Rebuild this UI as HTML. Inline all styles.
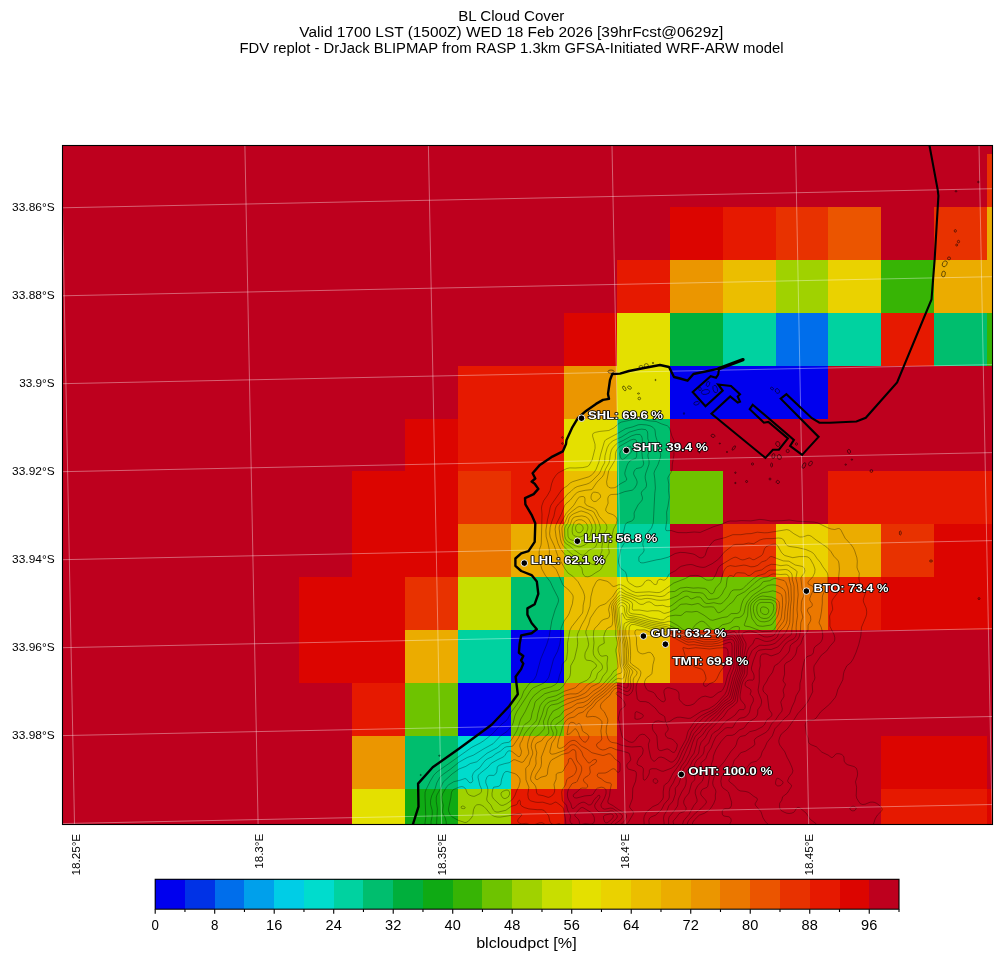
<!DOCTYPE html>
<html><head><meta charset="utf-8"><title>BL Cloud Cover</title>
<style>html,body{margin:0;padding:0;background:#fff;overflow:hidden}svg{display:block;will-change:transform}text{font-family:"Liberation Sans",sans-serif;}</style>
</head><body>
<svg width="1001" height="962" viewBox="0 0 1001 962">
<rect width="1001" height="962" fill="#fff"/>
<defs><clipPath id="fc"><rect x="62.5" y="145.5" width="930.0" height="679.0"/></clipPath></defs>
<g clip-path="url(#fc)">
<rect x="62.5" y="145.5" width="930.0" height="679.0" fill="#be001e"/>
<g shape-rendering="crispEdges">
<rect x="987.0" y="154.1" width="52.9" height="52.9" fill="#e83200"/>
<rect x="669.7" y="207.0" width="52.9" height="52.9" fill="#dc0500"/>
<rect x="722.6" y="207.0" width="52.9" height="52.9" fill="#e61900"/>
<rect x="775.5" y="207.0" width="52.9" height="52.9" fill="#e83200"/>
<rect x="828.3" y="207.0" width="52.9" height="52.9" fill="#eb5500"/>
<rect x="934.1" y="207.0" width="52.9" height="52.9" fill="#e83200"/>
<rect x="987.0" y="207.0" width="52.9" height="52.9" fill="#ebac00"/>
<rect x="616.8" y="259.9" width="52.9" height="52.9" fill="#e61900"/>
<rect x="669.7" y="259.9" width="52.9" height="52.9" fill="#eb9600"/>
<rect x="722.6" y="259.9" width="52.9" height="52.9" fill="#ebbe00"/>
<rect x="775.5" y="259.9" width="52.9" height="52.9" fill="#a0d200"/>
<rect x="828.3" y="259.9" width="52.9" height="52.9" fill="#ead200"/>
<rect x="881.2" y="259.9" width="52.9" height="52.9" fill="#37b405"/>
<rect x="934.1" y="259.9" width="105.8" height="52.9" fill="#ebac00"/>
<rect x="563.9" y="312.7" width="52.9" height="52.9" fill="#dc0500"/>
<rect x="616.8" y="312.7" width="52.9" height="52.9" fill="#e4e000"/>
<rect x="669.7" y="312.7" width="52.9" height="52.9" fill="#00af3c"/>
<rect x="722.6" y="312.7" width="52.9" height="52.9" fill="#00d2a0"/>
<rect x="775.5" y="312.7" width="52.9" height="52.9" fill="#006eeb"/>
<rect x="828.3" y="312.7" width="52.9" height="52.9" fill="#00d2a0"/>
<rect x="881.2" y="312.7" width="52.9" height="52.9" fill="#e61900"/>
<rect x="934.1" y="312.7" width="52.9" height="52.9" fill="#00be6e"/>
<rect x="987.0" y="312.7" width="52.9" height="52.9" fill="#37b405"/>
<rect x="458.1" y="365.6" width="105.8" height="52.9" fill="#e61900"/>
<rect x="563.9" y="365.6" width="52.9" height="52.9" fill="#eb9600"/>
<rect x="616.8" y="365.6" width="52.9" height="52.9" fill="#e4e000"/>
<rect x="669.7" y="365.6" width="158.7" height="52.9" fill="#0000ee"/>
<rect x="405.2" y="418.5" width="52.9" height="52.9" fill="#dc0500"/>
<rect x="458.1" y="418.5" width="105.8" height="52.9" fill="#e61900"/>
<rect x="563.9" y="418.5" width="52.9" height="52.9" fill="#e4e000"/>
<rect x="616.8" y="418.5" width="52.9" height="52.9" fill="#00be6e"/>
<rect x="352.3" y="471.3" width="105.8" height="52.9" fill="#dc0500"/>
<rect x="458.1" y="471.3" width="52.9" height="52.9" fill="#e83200"/>
<rect x="511.0" y="471.3" width="52.9" height="52.9" fill="#e61900"/>
<rect x="563.9" y="471.3" width="52.9" height="52.9" fill="#ebbe00"/>
<rect x="616.8" y="471.3" width="52.9" height="52.9" fill="#00be6e"/>
<rect x="669.7" y="471.3" width="52.9" height="52.9" fill="#6ec300"/>
<rect x="828.3" y="471.3" width="211.6" height="52.9" fill="#e61900"/>
<rect x="352.3" y="524.2" width="105.8" height="52.9" fill="#dc0500"/>
<rect x="458.1" y="524.2" width="52.9" height="52.9" fill="#eb7800"/>
<rect x="511.0" y="524.2" width="52.9" height="52.9" fill="#ebac00"/>
<rect x="563.9" y="524.2" width="52.9" height="52.9" fill="#a0d200"/>
<rect x="616.8" y="524.2" width="52.9" height="52.9" fill="#00d2a0"/>
<rect x="722.6" y="524.2" width="52.9" height="52.9" fill="#e83200"/>
<rect x="775.5" y="524.2" width="52.9" height="52.9" fill="#ead200"/>
<rect x="828.3" y="524.2" width="52.9" height="52.9" fill="#ebac00"/>
<rect x="881.2" y="524.2" width="52.9" height="52.9" fill="#e83200"/>
<rect x="934.1" y="524.2" width="105.8" height="52.9" fill="#dc0500"/>
<rect x="299.4" y="577.1" width="105.8" height="52.9" fill="#dc0500"/>
<rect x="405.2" y="577.1" width="52.9" height="52.9" fill="#e83200"/>
<rect x="458.1" y="577.1" width="52.9" height="52.9" fill="#c8de00"/>
<rect x="511.0" y="577.1" width="52.9" height="52.9" fill="#00be6e"/>
<rect x="563.9" y="577.1" width="52.9" height="52.9" fill="#ebbe00"/>
<rect x="616.8" y="577.1" width="52.9" height="52.9" fill="#e4e000"/>
<rect x="669.7" y="577.1" width="105.8" height="52.9" fill="#6ec300"/>
<rect x="775.5" y="577.1" width="52.9" height="52.9" fill="#eb7800"/>
<rect x="828.3" y="577.1" width="52.9" height="52.9" fill="#e61900"/>
<rect x="881.2" y="577.1" width="158.7" height="52.9" fill="#dc0500"/>
<rect x="299.4" y="630.0" width="105.8" height="52.9" fill="#dc0500"/>
<rect x="405.2" y="630.0" width="52.9" height="52.9" fill="#ebac00"/>
<rect x="458.1" y="630.0" width="52.9" height="52.9" fill="#00d2a0"/>
<rect x="511.0" y="630.0" width="52.9" height="52.9" fill="#0000ee"/>
<rect x="563.9" y="630.0" width="52.9" height="52.9" fill="#a0d200"/>
<rect x="616.8" y="630.0" width="52.9" height="52.9" fill="#ebbe00"/>
<rect x="669.7" y="630.0" width="52.9" height="52.9" fill="#e83200"/>
<rect x="352.3" y="682.8" width="52.9" height="52.9" fill="#e61900"/>
<rect x="405.2" y="682.8" width="52.9" height="52.9" fill="#6ec300"/>
<rect x="458.1" y="682.8" width="52.9" height="52.9" fill="#0000ee"/>
<rect x="511.0" y="682.8" width="52.9" height="52.9" fill="#6ec300"/>
<rect x="563.9" y="682.8" width="52.9" height="52.9" fill="#eb7800"/>
<rect x="352.3" y="735.7" width="52.9" height="52.9" fill="#eb9600"/>
<rect x="405.2" y="735.7" width="52.9" height="52.9" fill="#00be6e"/>
<rect x="458.1" y="735.7" width="52.9" height="52.9" fill="#00dccd"/>
<rect x="511.0" y="735.7" width="52.9" height="52.9" fill="#eb9600"/>
<rect x="563.9" y="735.7" width="52.9" height="52.9" fill="#eb5500"/>
<rect x="881.2" y="735.7" width="105.8" height="52.9" fill="#dc0500"/>
<rect x="352.3" y="788.6" width="52.9" height="52.9" fill="#e4e000"/>
<rect x="405.2" y="788.6" width="52.9" height="52.9" fill="#0faa14"/>
<rect x="458.1" y="788.6" width="52.9" height="52.9" fill="#a0d200"/>
<rect x="511.0" y="788.6" width="52.9" height="52.9" fill="#e61900"/>
<rect x="881.2" y="788.6" width="105.8" height="52.9" fill="#e61900"/>
<rect x="987.0" y="788.6" width="52.9" height="52.9" fill="#dc0500"/>
</g>
<path d="M423.6 829.8 424.7 825.2 425.8 817.2 425 796.2 425.1 792.2 426 789.8 430.2 781.2 433.8 775.2 437.2 771.8 471.8 747.3 480.2 743 483.8 740.7 492.5 733.8 500.8 724.8 505.8 721.1 507.8 718.6 511.1 712.2 516.7 704.8 521.6 697.2 523.8 691.1 529.2 683.8 534 679.8 536.2 675.7 540.8 658.8 546.6 644.8 549 637.2 551.8 620.8 555.1 609.8 558 602.8 558.5 600.8 558.4 599.2 557.8 597.2 553.2 588.2 550.3 581.8 545.2 575.2 541.9 569.2 539.8 561.8 539.1 552.8 539.4 549.8 541 545.2 541.3 542.8 542 514.2 541.5 508.2 541.8 505.8 543.6 500.8 547.2 495.8 550.2 490.5 551.6 483.8 553.3 479.2 555.8 475.5 558.2 472.9 566.8 468.5 569.8 467.9 575.2 468 582.8 467.6 587.2 466.6 589.2 465.2 592.2 459.7 595.1 448.2 595 444.2 592.6 436.2 592.7 434.2 593.4 433.2 595.2 432.4 599.8 431.4 608.8 430.5 614 427.8 619.2 423.2 621.2 422.1 638.2 418.5 649 420.8 656.2 421.5 661.3 423.8 667.3 425.8 668.8 427 669.8 428.7 671.8 435.8 674.1 440.8 674.2 442.2 673.1 447.2 673.9 452.2 673.9 455.2 672.3 464.2 672.1 469.2 671.1 472.2 668.3 476.8 667.8 478.2 668.8 484.2 668.6 490.8 669.3 497.2 668 506.2 666.6 512.2 666.9 519.8 665.6 528.8 665.8 529.9 666.2 530.5 667.2 530.7 671.2 530.5 676.8 532.3 678.8 532.6 686.2 532.7 694.2 532 700.2 532.4 713.8 526.6 721.5 524.2 727.8 521.5 730.2 521 735.8 521.1 741.2 520.6 750.8 520.9 759.8 519.4 764.2 519.8 770.8 521 781.8 520.7 789.2 520 797.2 521.2 814.2 522.1 817.8 522.9 827.8 527.8 831.2 529 834.8 529.5 838.2 528.5 839.8 528.8 841 530.2 845.1 538.2 851.2 544.8 853.3 547.8 854.7 550.8 856.9 557.8 857.3 561.2 857 567.2 857.5 569.2 859.3 573.2 858.9 578.2 859.5 581.8 860.5 583.8 864.8 588.5 865.6 591.2 865.2 593.8 863.5 598.8 863.3 600.8 863.6 602.2 866.2 608.2 866.7 611.8 866.6 614.2 865.9 616.8 861.5 627.2 860.8 635.8 858.7 644.8 855.9 652.8 853.2 658.9 850.8 662.6 846.8 665.8 844.2 671.2 843.5 673.8 842.8 679.8 837.8 689.6 836.3 695.2 835.2 697.5 829.6 704.2 820.7 711.8 816 718.2 813.8 719.6 808.8 720.5 807.1 721.2 805.7 722.8 805.2 725.2 806.4 733.8 808.1 738.2 808.5 742.2 809.6 743.8 811.8 745 816.4 746.8 821.8 752.1 828.3 755.2 831.2 757.4 832.2 757.5 833.2 757 835.7 754.2 836.8 753.7 839.2 753.7 841.8 754.5 843.6 756.2 844 757.8 844.2 761.2 845.8 763.6 847.8 764.8 854.2 766.6 856.3 768.2 857.2 770.7 857.6 773.8 857.3 776.2 855.5 781.8 856.6 787.2 856.2 795.8 856.7 798.2 858.8 801.7 860.4 803.8 862.8 804.5 865.2 804.2 870.2 802.2 872.8 802.1 874.8 802.5 876.8 803.4 878.8 804.9 881.3 807.2 882.1 808.8 882.2 809.8 881.8 810.8 877.3 815.2 875.2 818.8 873.3 824.8 874.6 829.8M854.1 810.8 855.2 810.1 856.1 808.8 856.1 807.8 855.3 806.8 853.8 806.3 852.2 806.4 850.1 807.8 849.8 808.8 850.8 810.1 852.2 810.8 854.1 810.8M431.1 829.8 431 821.8 432.1 816.2 432.3 813.2 432.1 810.2 430.5 804.2 430.6 800.2 431.7 795.8 435.1 788.8 436.8 782.8 439.8 777.4 442.2 775 450.8 768.9 458.8 762.3 467.2 757.5 473.4 755.2 484.2 748.6 493 743.8 501.2 735.2 506.8 731.7 511.9 725.8 513.2 722.8 514.9 715.8 516.7 711.8 530.8 690.1 533.3 687.8 541.4 684.2 544.1 682.8 546.8 680.2 548.8 677.1 553.5 659.2 557.6 651.2 559.8 644.2 561 636.2 560.8 630.2 561.2 627.8 564.2 620.8 567.8 616 569 613.8 572.4 603.8 573.2 597.8 573 595.8 571.9 593.8 567.8 589 564.2 586.3 562.8 584.7 556.3 569.8 555.1 568.2 551.2 564.9 549.6 561.2 549.2 558.2 549.4 550.2 547.9 542.8 546.2 536.8 545.9 530.2 547.6 519.2 549.1 513.2 550.1 507.8 551 505.2 561.4 490.2 563.2 488.5 567.3 485.8 570.2 483 572.8 481.6 588.8 476.8 591.2 475.3 593.9 472.8 596.1 469.2 598.9 462.2 600.7 454.2 604.2 442.3 604.9 440.8 605.7 439.8 617 433.8 625.8 428.6 632.9 426.8 638.2 424.8 641.2 424.5 646.2 424.9 650.1 425.8 652.8 427.2 654.6 429.2 655.1 430.8 655.6 435.8 659.4 448.2 660.7 455.2 660.3 457.8 657.9 464.8 654.7 470.8 654 473.2 654.8 478.8 655.4 488.2 654.8 493.2 653.3 522.8 651.5 527.8 646.8 533.8 645.1 538.2 643 542.2 642.8 544.8 643.9 548.8 644 550.8 643 552.8 639.8 555.7 638.9 557.2 638.8 560.2 639.2 561.4 640.2 562.4 641.8 562.9 643.8 562.8 656.7 559.8 660.8 559.2 668.2 557.2 675.2 553.5 680.2 552.4 685.2 552.6 692.8 553.9 694.8 554.6 699.2 557.5 700.8 557.9 702.2 557.8 704 556.8 705.2 555.2 707.2 549.2 708 547.8 712.8 541.7 714.9 540.2 725.8 537.4 732.8 534.7 740.8 534.7 746.2 533.8 751.2 533.6 757.2 532.2 764.2 532.8 767.8 532.7 786.8 529.6 789.2 530.2 793.8 533.7 799.8 537 802.8 536.9 807.8 535.3 809.2 535.4 811.2 536.2 816.2 540.1 826.8 547.2 830.8 551.4 833.8 556.2 837.7 560.2 838.6 561.8 839 563.8 839.4 569.2 838.7 576.8 838.8 590.2 837.7 592.8 833.1 598.8 832 600.8 831.7 602.8 832.6 607.8 832.6 609.8 829.9 615.2 829.6 616.8 829.9 620.2 829.9 626.2 834.1 634.8 834.8 637.8 834.7 640.2 833.9 641.8 829.8 646.4 826.8 650.8 821.2 655.3 814.2 665.7 813.8 667.8 813.9 670.8 814.9 677.8 814.4 679.8 812.7 682.8 812.2 684.2 812.7 691.8 808.1 701.2 804.2 706.6 797.8 713.7 794.2 719.4 787.4 728.8 781.2 734.2 779.5 737.8 778.8 740.8 779 742.8 779.8 745.1 784.8 751.8 787 757.2 789.5 761.8 791.9 767.2 792.9 770.8 792.2 773.2 789.1 777.2 787.6 780.8 788.1 782.2 791.2 784.8 791.5 785.8 791.3 786.8 787.2 793.2 782.6 796.8 781.8 800.2 779.7 803.2 779.5 806.2 779.9 808.8 781.2 810.5 784.2 812.2 786.8 813.2 789.2 813.5 791.8 813.1 793.9 812.2 794.8 811.2 796.2 808.6 797.2 807.7 798.2 807.4 799.8 807.8 806.2 813.2 810.2 819.3 816.2 823.8 818.6 827.2 819.4 829.8M780.1 785.8 782.6 783.8 783.1 782.2 782.4 781.2 779.2 778.8 777.2 778.1 776.5 778.8 776 780.2 775.5 782.8 775.7 784.2 776.4 785.2 777.8 786 780.1 785.8M437.1 829.8 436.6 823.2 437.4 808.8 436.3 801.8 436.3 797.2 437 794.8 440.1 789.2 443.2 782.1 452.2 773.9 459.2 768.9 465.8 766.4 470.2 763.6 476.8 761.8 487 753.2 497.2 747.8 501.8 743.8 504.2 742.9 508.8 742.3 510.2 741.4 512.1 738.8 516.8 730.8 518.2 727.3 520.7 719.2 525.2 711.6 530.6 700.2 534.2 695.4 541.2 689.9 543.8 688.7 551.2 686.8 554.9 684.8 556.9 683.2 558.2 680.9 559.5 675.2 561.5 670.2 562.1 664.8 563 663.2 565.7 660.8 566.6 659.2 567.6 651.2 567.5 643.2 569.9 630.2 571.7 626.8 582.4 613.2 582.9 611.2 583.2 605.2 584.5 599.2 584.7 596.8 584.2 594.2 583 590.8 578.1 581.8 572.8 576.2 568.2 573.2 565 568.8 558.1 556.8 554.2 545.6 550.2 537.2 549.6 533.8 550.2 527.2 551.7 521.8 553.9 516.2 555.2 509.8 556.1 507.2 558.6 503.8 563.9 498.8 567.2 494.4 571.2 491.2 574.2 488.2 577.2 486.6 586.8 484.1 589.2 483.1 591.8 481.2 598.8 474.1 600.3 471.8 602.2 467.2 604.6 462.8 605 455.8 607.2 447.8 608.8 444.8 610.8 442.5 613.2 440.7 621.8 436.8 629.2 432.2 637.8 429.6 641.8 429.1 645.8 429.7 647.2 431.2 647.7 433.2 647.8 438.8 649.4 443.2 649.9 445.8 649.7 449.2 647.9 454.8 648 456.8 649.1 461.2 649 464.2 645.8 473.2 645.2 476.2 645.3 478.8 646.5 483.8 646.4 486.2 645.5 488.2 642.4 490.8 641.5 492.2 641.3 493.8 642.4 497.2 642.4 499.2 641.6 500.8 638.1 504.8 634.5 511.8 634.1 513.2 634.3 516.8 633.8 518.8 632.8 520.2 631.3 521.2 626.8 522.7 625.2 524.8 623 534.2 624.7 540.2 624.8 542.2 621.8 547.2 620.8 549.2 618.5 560.8 618.7 562.8 620.1 567.2 621.2 568.8 624.2 570.7 625.5 572.2 626.5 574.8 627.3 580.2 628.1 581.8 629.6 583.2 634.8 586.4 636.8 586.9 638.8 586.7 640.8 586.2 642.6 585.2 644.8 581.9 645.8 580.9 647.2 580.3 648.8 580.1 650.9 580.8 652.8 583.2 654 584.2 655.2 584.6 656.2 584.4 657 583.8 657.5 581.2 658.5 579.8 660.2 579.2 663.8 580.2 665.2 579.8 666.8 578.3 668.7 574.8 669.8 573.6 675.3 570.8 679.2 567.5 681.2 566.3 686.8 564.9 690.8 564.5 692.8 564.8 696.8 566.3 699.8 567 703.2 567.4 705.2 567.1 712.2 563.7 717.1 560.2 719.8 557.8 724.1 552.2 733.2 545.1 735.8 544.4 743.2 544.3 748.2 543.1 753.8 543.7 759.8 540 763.2 539 766.8 538.6 772.2 538.6 778.2 538 781.2 538.3 783.6 539.8 785.8 544.1 787.8 545.9 789.8 546.5 797.2 547.5 805.8 549.5 810.8 551.6 813.2 553.2 814.6 554.8 816.8 558.2 820.2 562.2 822.9 566.8 826.9 572.2 827.6 573.8 827.9 575.8 827.8 584.8 826.9 587.8 823.8 592.6 822.7 595.2 822.3 597.8 822.3 603.2 821.5 611.2 820.4 617.8 819.1 622.2 819.2 623.2 821.2 627.2 822.4 631.8 822.8 635.8 822.3 639.2 821.4 641.2 820.2 642.8 814.8 646.9 813.9 648.8 813.3 652.8 812.5 654.2 811.2 655.1 806.8 656.8 804.9 659.2 803.9 662.2 801.8 672.2 801.3 678.2 800 683.2 799.8 689.2 798.9 691.2 796.1 695.8 794.7 701.2 791.9 707.2 789.8 713.2 788.3 715.2 783.8 719 779.3 724.2 774.9 728.8 772.3 735.8 767.2 742.2 764.7 747.8 762.2 751.8 760.9 756.2 759.6 758.2 756.2 761.3 752.2 762.3 750.2 763.3 746.2 768.5 744.2 770.1 732.7 774.8 730.8 776.8 729 779.8 728.9 780.8 729.5 781.8 733.8 785.1 738.2 790 740.2 790.9 745.2 791.4 748.2 792.2 750.2 793.4 753.6 796.2 757 798.2 757.4 799.2 757.2 800.2 755.1 803.8 755.4 805.2 761 811.8 763 817.8 765.1 821.2 767.2 823.6 772.1 827.8 773.4 829.8M587.8 576.8 585.2 576.5 583.7 575.2 582.7 573.2 581.9 568.2 580.9 566.8 578 564.8 572.2 562 570.5 560.8 562.8 551.9 560.5 548.8 558.1 543.8 556.1 536.8 555.1 529.2 555.8 525.2 561.7 513.2 564.5 505.8 565.9 503.8 570.2 500.2 575.2 494.1 577.2 492.5 579.2 491.6 585.2 490.3 591.2 489.7 592.2 489.2 596.9 482.2 602.3 476.8 603.8 474.4 605.5 469.2 608.9 463.2 609.5 460.8 610.3 454.2 611.4 450.2 612.5 448.2 615.4 444.8 617.8 442.9 623.2 440.5 631.2 436 636.2 434.4 639.8 434.5 641.4 435.8 642.2 438.2 642.3 441.2 641.4 447.8 642.3 456.8 643.7 463.2 643.2 465.2 642.1 466.8 640.8 467.6 636.2 468.6 635 469.8 633.9 471.8 633.6 473.2 633.9 474.8 636.3 479.2 637 481.2 637.1 482.8 636.6 484.8 634.6 488.2 632.2 490.2 624.8 491.6 617.8 494.2 611.2 494.5 609.6 495.2 608.3 496.8 607.8 498.8 608.1 503.2 605.8 508.8 605.8 510.8 607.8 512.9 612.8 514.6 614.8 515.9 616.4 517.8 617.1 520.2 616.2 524.1 613.5 529.2 612.1 535.2 609.8 540 608.4 544.8 608.2 547.2 609.2 551.2 609.1 553.2 606 557.8 604.1 563.2 600.8 569.4 599.2 570.7 595.5 572.8 591.8 575.4 589.8 576.3 587.8 576.8M596.3 501.2 600.2 497.8 600.6 496.8 600.4 495.2 599.5 493.8 598.2 492.8 595.2 492.2 593.2 492.3 592.2 493.2 591.3 495.2 591 497.2 591.2 498.8 592.1 500.2 593.2 501.2 594.8 501.6 596.3 501.2M446 829.8 446.4 824.8 446.2 821.8 445.2 817.9 442.7 812.8 442.6 810.8 443.3 805.2 442 800.2 441.7 797.2 442.6 793.8 446.8 786.6 448.8 784.7 453.8 781.7 459.8 780.3 464.8 778.6 466.2 778.8 469.2 782.4 470.8 782.8 471.8 782.4 472.8 780.8 472.2 776.2 473.3 773.2 475.2 770.9 479.8 767.7 483.3 762.8 485.6 760.2 487.8 758.7 492 756.8 495.8 753.7 500.2 751.3 504.8 747.4 506.8 746.7 511.8 746.4 513.1 745.8 518.5 737.8 523.8 725.5 525 724.2 528.4 722.2 530.4 719.8 531.2 717.8 532.1 712.8 534 707.2 534.9 702.8 536 700.8 544.8 693.7 552.2 691.4 557.2 690.6 559.8 689.4 563.4 685.8 566.9 680.2 569.2 677.7 570 675.8 570.5 672.8 570.7 665.8 574.5 658.8 577.3 646.8 577.7 643.2 577.2 636.8 577.7 633.8 581.7 624.8 584.8 619.5 587.4 613.8 590 606.2 590.9 596.8 593 588.2 595.7 582.8 597.2 580.7 598.8 579.8 600.2 579.6 606.9 581.2 609.5 582.8 612.2 585.9 613.2 586.5 614.8 586.3 618.8 584.7 621.2 584.8 623.8 585.9 632.2 591.2 635.8 592.5 649.2 591.8 656.8 592.6 659.2 592.5 661.8 591.5 673.8 583 685.2 578.6 690.2 575.7 695.8 575.4 698.2 575.6 700.8 576.5 706.2 579.9 708.2 580.2 712.2 579.9 713.2 578.9 715.8 574.3 717.9 568.8 719.2 566.6 721.2 564.9 730.8 559 733.8 557.5 735.2 557.2 736.8 557.5 740.2 559.3 742.2 559.9 744.2 559.7 749.2 557.9 750.2 558.2 752.8 559.7 754.2 559.7 761.2 555.8 762.2 554.8 763.1 553.2 764.5 548.8 766.1 546.8 768.1 545.8 772.2 544.4 775.2 544.1 776.7 544.8 777.7 545.8 781.3 552.2 783.1 554.2 784.8 555.5 792.8 557.7 799.2 556.6 805.8 556.6 807.8 557 810.2 558.8 813.5 564.8 815 569.2 814.7 572.8 812.8 576.8 808.6 581.2 807.9 582.8 808.1 583.8 808.8 584.4 812.7 586.2 813.6 588.2 813.2 590.2 810.8 595.6 809.7 598.8 810 600.8 812.2 603.8 812.2 605.7 811.4 606.8 808.2 608.3 807.4 610.2 807.8 611.9 810.5 616.2 810.8 619.8 810.2 621.6 808.1 625.2 808 629.8 807.6 631.2 803.2 636.9 800.7 643.8 797.2 647.6 796 653.2 795.1 655.2 791.8 659.4 789.8 660.9 786.2 662.8 784.7 664.8 784.4 666.2 784.6 674.2 783 680.2 783.6 681.8 785.2 683.8 785.4 684.8 783.2 689.8 783.2 691.2 784 694.8 783.8 696.8 781.3 700.8 780.8 702.2 782.3 708.8 781.9 711.2 778.8 715 775.6 719.8 771.6 723.8 768.8 729.2 767.3 731.2 765.2 732.8 757.1 737.2 755.1 738.8 754.3 740.2 754.9 744.2 753.8 745.8 745.8 751.1 741.2 752.6 739.8 753.6 737.7 756.8 734.2 760.1 732.8 764.8 731.9 766.2 722.9 774.8 721.6 776.8 720.8 781.2 721.5 785.8 723.2 788.2 727.1 790.8 728.5 792.2 731.6 802.2 731.4 805.8 730.2 807.8 728.2 808.8 725.2 808.7 723.8 809.1 722.8 809.9 722.2 811.8 722.3 814.2 723.2 815.6 724.8 816.2 728.9 816.8 730.2 817.7 730.9 818.8 731.2 820.2 731 821.8 728.4 826.2 728.1 829.8M510.2 829.8 509.9 828.2 509.2 827.2 507.8 826.1 505.8 825.3 503.8 825.5 499.2 827.1 492.8 828.1 490.8 827.5 486.4 825.2 484.2 824.8 476.7 826.8 475.2 827.8 474.3 829.8M703.3 829.8 702.8 828.8 701.2 827.6 699.2 826.3 697.8 825.9 696.8 826.3 695.8 827.3 694.7 829.8M614.2 487.8 610.8 488 608.7 487.2 607.7 486.2 607 484.8 606.6 481.8 608.7 470.8 615 460.2 615.4 458.2 615.4 453.8 616.1 451.2 618.2 447.8 620.2 446 630.8 440 633.2 439.3 635.2 439.5 636.2 440.2 636.6 441.8 635.9 446.8 636.8 453.2 636.6 456.2 636.1 457.8 635.2 458.6 631.2 460.1 629.8 461.2 628.2 463.1 627.2 465.2 625.3 470.8 624.8 473.2 625.1 475.2 626.7 478.8 626.5 480.2 625.3 481.2 620.2 483.9 616.2 487 614.2 487.8M595.2 564.8 592.2 564.4 588.2 561.7 583.8 561.5 581.8 561 574.2 555.9 569.1 551.8 563.2 545.7 561.5 542.8 560.4 538.8 559.1 528.2 559.2 526.8 559.9 524.8 566.2 513.4 573.8 505.2 578.1 498.2 579.3 497.2 581.2 496.6 583.2 496.5 584.5 497.2 585 498.8 584.8 502.8 586 504.8 587.8 505.9 593.2 508 596.2 510.2 599.2 516.2 605.8 523.7 606.8 526.2 606.9 528.2 606.5 529.8 603.8 534.1 603.1 535.8 602.7 541.8 601.9 546.8 602 550.8 599.8 556.2 599.3 561.2 597.8 563.8 595.2 564.8M549.5 829.8 548.4 827.8 544.8 824.3 543.2 823.2 541.8 822.6 539.2 822.9 534.2 824.8 532.2 825.2 530.2 824.8 526.2 823.3 521.8 823.8 519.4 823.2 518 821.8 517.7 820.2 518.5 818.8 521.7 815.2 521.6 814.2 520.8 813.7 517.8 813.6 508.8 815.8 500.2 817.1 497.2 817 494.2 816.3 492.1 815.2 490.1 813.8 486.2 808.9 483.8 806.5 481.2 805 479.2 804.6 476.8 804.8 474.8 806.5 473.5 809.8 472.7 815.8 471.4 817.8 468.2 821.4 466.2 822.4 464.8 822.5 458.2 820.3 451.8 816.7 449.9 814.2 448.7 811.2 448.5 808.8 450.8 797.8 451.4 792.8 452.2 790.8 453.8 789.4 459.2 787.1 461.8 786.6 463.2 786.9 464.8 787.9 465.8 789.2 466.9 792.2 467.8 793.8 468.9 794.8 471.2 795.8 473.2 796.3 474.8 796.2 480.2 793.5 481.4 791.8 481.6 789.2 479.8 785.2 478 777.2 478.4 775.2 479.6 773.8 487.9 767.2 491.4 763.2 497.8 759.6 503.6 756.8 505.1 755.2 506.9 752.2 508.2 751.1 509.8 750.8 511.8 751.4 518.2 756.5 519.2 756.7 520.2 756 521.1 753.8 521.5 751.2 519.8 746.2 520.1 743.8 522.1 740.2 523.8 735.6 525.1 733.2 529.3 727.8 534.8 722.6 536.2 720.8 537 718.8 537.8 713.8 540.1 705.8 542.1 702.8 545.6 699.2 547.8 697.9 555.8 695.8 564.8 691.1 575.2 687.8 579.8 683.4 586.8 680.3 589.2 678.2 590.1 676.8 591.9 671.2 593.2 669.5 596 667.2 596.6 665.8 595.8 664 593.2 661.9 590.8 660.7 586.8 660.2 585.8 659.5 585.1 658.2 584.8 655.8 585.2 652.8 588 647.2 588.7 644.2 587.5 637.8 586 633.8 585.8 631.8 586.5 629.2 588.7 624.2 590.3 618.2 595.6 610.2 598 607.2 600.2 605.7 604.8 604.1 606.2 603.2 612.6 596.8 616.7 590.2 618.2 588.8 619.8 588.2 621.8 588.6 625.1 591.2 627.2 592.4 635.2 595.6 637.8 596.2 646.2 595.2 652.2 595.5 659.8 596.6 662.2 596.4 664.8 595.5 667.9 592.8 669.7 591.8 674.8 591.4 680.2 588.1 686.8 587.3 693.2 588.1 698.2 587.8 704.8 588.4 707.2 589.8 709.8 593 711.2 593.7 712.2 593.7 713.6 592.8 715.6 588.2 720.4 582.8 721 581.2 721.9 576.8 723.9 570.8 725.2 568.5 727.2 566.7 730.2 565.6 735.2 566.4 743.8 565.1 746.2 565.4 750.8 566.8 754.2 566.6 757.8 565.3 761.8 561.9 766.2 560.5 769.2 557.4 770.8 556.5 772.2 556.7 783.2 560.9 788.9 561.2 795.2 565 802.2 566.4 804.2 567.9 804.9 570.8 804.2 573.2 801.7 576.2 800.9 578.2 802 588.2 803.7 592.8 803.9 594.2 803.6 596.2 801.9 600.2 801.4 602.8 801.1 610.2 802.8 617.2 800.8 622.8 800.4 631.2 799.5 635.8 798.5 638.2 797.2 640.2 792.1 643.8 790.6 645.2 790 646.8 789.4 650.8 788 653.2 778.2 663.6 774.6 665.8 772.5 672.2 768.4 677.8 766.8 681.2 763.8 685.8 763.1 687.8 762.9 689.8 763.6 691.8 766.8 694.8 767.4 695.8 769 708.8 769.5 710.2 771.7 713.2 771.9 714.8 771.6 715.8 770.4 717.2 766.8 719.9 764.4 724.8 762.3 726.8 755.8 730.2 749.8 731.7 745.2 735.5 740.8 736.4 739.5 737.2 738.2 738.8 737.2 740.8 736.4 744.2 735.1 746.8 730.8 751.6 724.1 761.8 717.8 768.9 714.8 774.6 713 780.8 712.7 783.2 713.2 785.6 715.5 789.8 715.9 791.8 715.3 795.2 715.4 799.2 713.6 803.8 710.8 808.2 708.8 810.2 704.8 813.1 699.2 815.2 694.5 819.8 692.9 822.2 690.7 829.8M623.2 459.3 622.2 459.5 621.6 459.2 620.4 457.2 619.8 453.8 620.6 451.2 622.2 449.4 624.8 447.9 628.2 446.3 630.2 446.4 631 447.2 631.7 449.2 631.8 450.8 631.4 452.2 625.2 457.9 623.2 459.3M583.8 555 582.2 555.2 580.2 554.3 572.8 548.8 569.4 545.8 565.2 543 563.4 539.8 562.4 535.2 561.9 528.8 562.2 526.8 565.2 521.8 567.7 515.8 569.2 513.8 571.8 511.5 577.2 507.4 579.2 506.5 581.2 506.8 586.8 509.3 591.8 510.9 593.8 512.1 598.5 521.2 600.3 527.2 600.3 528.8 599.2 532.4 597.5 541.8 595.8 546.5 594.2 548 589.2 550 585.6 553.8 583.8 555.0M560.4 829.8 560.7 826.2 560.2 824 559.2 823.5 556.2 824.4 554.2 824.6 552.8 824.3 551.2 823.4 549.8 821.2 548.6 815.8 544.2 810.5 541.8 809.7 537.2 809.7 528.8 808.9 524.2 807.5 522 806.2 520.9 805.2 520.4 804.2 520.3 801.2 519.8 800.3 519.2 800.2 518.2 801 517.3 803.8 516.3 804.8 511.2 806.4 505.8 810.3 498.2 812.1 496.2 812 494.8 811.4 493.2 809.8 490.8 804.9 487.8 801.8 486.9 800.2 486.7 798.8 487.6 794.2 487.9 789.8 487.5 787.2 485.8 782.8 485.8 780.2 487 777.2 488.3 775.8 489.8 775.3 493.8 775.4 495.5 774.2 496.8 771.8 497.3 767.2 497.9 766.2 499.2 765.3 504.8 763.6 509.2 762.7 513.8 759.7 515.2 759.8 521.2 762.3 522.8 762.1 523.9 761.2 528.7 753.8 528.7 751.8 527.6 747.2 527.6 744.2 528.2 741.2 530.2 734.8 533.8 729.2 538.2 724.8 542.3 714.2 544.1 707.8 545.5 705.2 547.2 703.3 550.2 701.4 556.8 699.9 562.2 696.4 565.8 694.9 570.2 693.9 575.8 693.9 578.2 693.2 582.4 690.2 587.5 684.8 594 680.8 595.7 679.2 596.4 677.8 597.4 673.8 598.6 672.2 601.6 669.8 602.2 668.8 602.5 667.2 602.1 665.2 601.4 663.8 595.8 658.2 594.1 655.8 593.4 653.8 593.2 650.8 594 642.8 593.4 635.8 593.7 630.8 594.9 628.2 598 625.2 601.4 620.8 603.8 619.4 608 618.2 609.2 617.3 609.7 614.8 608.6 609.8 609.4 605.8 611.2 602.2 615.8 596.8 618.4 592.8 619.8 591.7 621.2 591.8 626.2 594.5 631.2 596.2 635.8 598.2 638.8 599.1 641.2 599.3 645.2 598.5 647.8 598.4 651.2 598.8 656.8 600.1 660.8 600.3 666.2 599.9 669.1 599.2 677.2 595.8 682.6 591.8 684.8 591.1 686.8 591 693.2 592.5 699.8 592.7 702.5 593.2 704.7 594.8 707.2 598.6 708.8 599.5 716.2 598.7 718.8 597.7 722.2 593.8 723.8 590.4 726.1 586.8 727.2 578.5 728.2 576.8 729.8 575.6 731.2 575.6 733.8 576.5 735.3 573.8 736.8 572.9 738.2 572.7 744.2 573.1 745.2 573.5 747.8 575.4 749.2 575.6 750.8 574.9 755.2 571.4 761.8 569.9 766.2 566.5 771.2 564.3 775.2 564.5 780.8 565.7 786.2 565 788.2 565.3 796.2 570.5 797.1 571.8 795.9 578.2 797.4 584.2 798.2 594.8 797.6 599.8 797 609.8 797.6 615.8 796.5 622.2 796.1 627.8 796.4 633.8 795.8 636.2 793.8 638.8 788.8 641.1 786.2 643 783.7 646.2 780.3 651.8 778.2 653.5 771.8 655.8 770.2 655.6 767.2 654.2 765.2 653.8 762.2 654.2 760.8 655.4 760.3 657.2 760 661.2 760.3 665.8 759.2 670.2 759.3 681.8 758.1 689.8 758.6 692.8 761.4 699.8 761.6 702.2 760.8 705.5 757.8 709.8 757.7 713.2 757.2 715.2 756.2 716.8 754.8 718.3 749.8 721.3 747.8 722.9 743.8 728.2 739.2 730.1 734.8 734.2 732.2 735.3 727.8 735.4 726.2 735.9 721.2 741.3 717.8 746.4 715.8 749.9 714.2 753.8 713.4 756.2 713 759.8 711.5 763.8 710.8 768.8 709.6 773.2 709.2 778.2 707.8 786.2 706.8 787.5 702.5 789.2 701.3 790.8 700.8 792.2 700.7 793.8 701.2 795.2 705.7 800.2 706.4 801.8 706.2 802.8 705.2 804.2 700.8 808.8 695.8 812.7 689.2 819.8 688 821.8 686.6 826.2 684.4 829.8M464.8 808.4 463.2 808.7 461.8 808.4 461.1 807.8 461.1 806.8 462.2 806 463.8 806.3 465.1 807.2 465.3 807.8 464.8 808.4M580.2 546.8 578.2 546.7 575.2 545.7 568.2 541.9 566.8 540.7 565.5 538.8 564.8 536.2 564.6 528.8 565.1 526.8 567.9 522.8 569.2 518.2 570.7 515.8 573.8 513.7 579.8 511.3 581.2 511 583.2 511.5 587.9 513.2 590.9 515.2 592.2 517.2 594.9 522.8 595.7 525.8 595.9 528.2 594.8 535.1 592.2 539.4 590.8 540.8 584.2 545.2 580.2 546.8M568 829.8 567.6 827.8 565.8 823.8 565.3 818.2 563.6 809.2 563.1 807.8 561.7 806.2 556.8 802.6 555.8 802.1 554.8 802.3 551.8 804 549.8 804.3 542.8 802.2 537.8 802.4 535.2 802.1 530.8 800.9 529.2 799.8 528.3 797.8 527.8 794.2 528.9 787.2 526 779.8 525.7 768.8 526.2 767.8 529 764.8 530.5 759.2 532.7 754.2 532.7 751.8 531.5 748.2 531.2 746.2 531.5 743.8 532.5 740.8 534.2 737.6 538.8 734.9 544 729.2 544.5 727.2 543.5 723.2 543.5 721.2 546.1 714.8 547.4 709.2 548.8 706.8 551.2 705 557.8 703.7 567.6 698.8 577.2 696.7 580.9 695.2 584.8 693.2 587.2 691.4 590.2 687.8 591.8 686.5 599.3 682.8 600.5 681.2 602.8 676.4 606.7 671.8 607.4 669.2 607 663.2 607.7 657.8 607.4 656.2 606.2 655.5 602.2 656.2 600.8 655.9 599.8 654.9 598.8 652.8 598.1 650.8 598 648.8 598.4 647.2 599.4 645.8 604.3 643.2 603.7 636.8 604.6 633.2 605.9 630.2 607.8 628 611.2 626.5 612.2 625 612.7 621.2 612.7 616.8 611.5 606.8 612.3 604.2 614.2 601.2 619.2 595.8 621.2 594.9 631.2 598.7 635.7 601.2 638.8 603.6 640.8 604.4 643.2 604.3 646.8 602.2 649.2 601.8 651.2 602.6 653.8 604.7 655.2 605.5 657.2 605.7 662.8 605.3 666.8 606.7 668.2 606.8 669.8 606.4 671.8 605.4 678.8 600 685.2 596.5 687.2 596.2 688.2 596.5 690.2 598.3 691.8 598.9 696.8 596.9 699.8 597.1 701.2 598.1 704.2 602.2 706.2 603.4 708.8 603.5 713.8 602.7 718.8 603.8 720.8 603.8 722.8 602.7 728.2 596.8 730.7 592.2 731.9 590.8 733.8 589.9 739.8 589.8 742.8 588.8 746.8 584.7 753.2 579 757.8 575.7 764.8 573.7 768.2 571 770.2 570.1 778.2 570.1 785.2 569.5 787.2 569.8 789.8 571.4 791.7 573.8 792.1 575.2 792.3 579.8 793.7 584.2 794.1 586.8 794 600.2 793.3 610.2 793 622.2 791.9 628.8 791.7 632.8 791.4 634.2 790.2 635.6 786.8 637.9 783.8 640.5 779.2 645.7 777.2 647.2 771.2 649.5 765.8 649.3 760.2 650 758.2 650.8 756.7 652.2 753.3 660.8 751.4 667.8 751.7 670.2 753.6 673.8 754 675.2 754.1 677.2 753.8 679.2 752.8 680.1 749.2 680 747.2 680.6 745.8 682 745.1 683.8 745.1 685.2 745.8 686.4 749.9 688.8 750.8 689.8 751 691.8 750.1 694.2 752.5 696.8 753.4 698.8 753.3 701.2 750.8 706.2 749.5 712.2 747.9 714.8 745.8 716.6 743.8 717.6 740.2 718.2 738.2 719.4 735.8 722.2 732.8 727.3 731.8 727.8 727.2 727.6 725.2 728.3 717.3 735.2 715.7 737.2 713.3 742.2 711.2 747.8 707.8 753.2 705.8 758.5 704.8 759.8 701.9 761.8 701.1 762.8 700.9 763.8 701.6 767.2 701.8 771.2 703.3 775.2 703.5 777.8 702.3 781.2 697.8 785.5 695.4 790.2 695.2 793.2 697.1 799.8 696.9 801.8 693.8 805.6 689.2 814.2 683.6 820.8 682 825.8 680.2 829.8M503.2 805.3 501.2 805.3 499.8 804.7 493.5 798.8 492.1 796.2 492 793.2 492.8 789.1 493.7 787.2 498.2 786.5 500.3 785.2 500.9 783.8 501.6 779.2 503.5 773.8 505.2 771.8 507.2 771.4 514.8 773.6 517.2 775.1 519.6 778.2 520 779.8 520.1 781.8 518.8 786.7 516.6 790.8 515 795.2 513.2 798.3 511.2 800.5 506.8 803.7 503.2 805.3M580.8 541.4 578.8 541.5 572.2 540.2 570.8 539.7 569.2 538.8 568 536.2 567.8 529.8 568.1 528.2 570.2 524.7 571.8 520.1 572.9 518.2 574.2 517.3 575.8 516.7 581.8 515.9 585.8 516.8 588.5 518.8 591.4 524.2 592.2 527.8 590.5 534.8 589.5 536.8 587.5 538.2 580.8 541.4M579.3 829.8 579.6 826.2 579.3 825.2 573.2 824.5 571.2 823.3 570.3 821.8 569.9 819.8 570.6 816.2 570.4 815.2 567.8 810.8 566.5 805.2 563.2 801.8 562.3 800.2 561.7 792.2 562.2 789.8 565.5 784.8 566.8 779.5 568.3 778.2 573.2 775.6 574.5 774.2 575.8 772.2 576.6 769.2 575.8 766.2 571.8 758.9 570.8 758.3 569 758.8 568.4 759.8 568.4 761.8 567.9 763.2 565.4 766.8 563.2 771 561.8 772.1 557.8 773 556.2 774.2 556.1 779.2 554 784.2 554.7 789.2 554.6 791.2 554 793.2 553 794.8 550.2 796.8 548.2 797.4 543.2 795.7 538.4 794.8 537.2 793.8 536.7 792.8 536.1 788.2 535.5 786.2 534.2 784.2 531.3 781.2 530.5 778.8 530.9 776.2 532.1 772.2 535.3 766.2 536.1 763.8 535.8 758.2 536.8 752.8 535.3 747.2 535.3 745.8 535.8 744.2 536.8 742.9 541.5 740.8 544.8 736.6 547.9 734.2 548.7 733.2 548.8 730.8 547.7 723.8 548 720.8 549.8 716.1 553.2 711 557.8 708.8 561.8 706.3 567.2 703.8 576.8 699.8 584.8 697.5 588.2 695.7 593.2 691.1 599.2 687.4 602.2 685.1 610.6 675.8 613.8 671 616.8 669.2 617.7 668.2 618 666.2 617.2 658.8 615.9 651.2 616 649.2 617.3 644.8 617.4 642.2 615.6 634.8 615.8 628.2 614.9 622.2 614.2 613.2 613.4 607.8 613.8 605.2 615.8 602.1 619.8 598 621.2 597.5 622.8 597.6 628.8 600.3 631.8 602.4 632.6 604.2 632.2 608.8 632.7 609.8 633.2 610.1 639.2 610 647.2 611.3 652.2 610.7 658.2 610.8 660.2 611.3 663.2 613.1 664.8 613.4 669 612.2 675.2 609 677 607.8 679.4 605.2 681.2 604.3 686.2 603.9 691.8 604.8 697.8 603.5 699.2 603.9 702.8 606.5 704.2 607.1 711.2 606.8 713.6 607.2 715.2 608.7 717.2 612.2 718.8 612.8 720.2 612.3 723.8 610 728.8 604.8 732.8 601.8 737 595.8 744.8 591.7 751.8 585.8 755.2 582.4 760.2 578.7 762.8 577.7 767.2 577 771.2 574.5 773.2 573.9 780.8 574.5 785.2 574.2 786.8 574.5 787.9 575.2 788.8 576.5 789.6 581.2 790.9 585.8 791.4 599.8 790.5 606.8 789.7 622.8 789.2 624.8 786.6 630.8 785.4 632.8 781.8 637.2 775.2 643.2 772.2 644.4 768.8 645.1 764.8 645.5 760.8 645.2 759.2 645.4 753.8 648.9 752 650.8 749 657.2 748.4 659.2 747.3 667.8 747.1 674.2 746.2 676.2 743.7 679.8 742.6 682.2 741.7 685.2 740.1 694.8 740 696.8 740.4 698.8 741.2 700.5 744.8 704.8 745.2 706.8 745 708.2 743.8 709.6 739.8 709.6 738.8 710.1 735.2 714.9 731.8 717.5 726.8 720.6 722 725.2 718.8 729.5 713.8 732.6 711.8 734.8 708.7 742.8 707.6 744.2 705.1 746.2 704.4 747.2 703.9 751.8 703 754.2 701.8 755.8 696.8 760.2 694.7 763.8 694.4 765.8 694.4 769.8 693.7 773.8 694.9 777.8 694.9 779.2 694.4 780.2 692.2 782.4 691.4 783.8 688.9 793.2 685.1 797.8 683.8 800.8 683.7 802.8 684.1 804.2 686.2 807.8 685.9 809.8 684.2 811.7 680.8 812.7 679.2 813.6 676.2 817.7 673.4 820.8 673.1 821.8 673.3 823.2 674 824.2 676.2 825.7 676 826.8 671.2 827.9 669.7 828.8 668.8 829.8M505.8 798.4 504.2 798.5 502.8 797.8 501.4 795.8 500.9 793.8 501.7 792.2 503.2 791.2 505.8 790.2 507.2 790.1 508.2 790.4 509.1 791.2 509.6 792.8 509.6 794.2 508.4 796.8 505.8 798.4M580.8 824.8 585.2 823.5 589.8 824.2 591.8 824 593.8 822.8 594.5 820.8 594.2 817.2 592.5 813.8 590.8 812.3 582.8 807.5 581.2 807.7 580.2 808.3 575.3 813.8 574.7 815.2 575.2 816.2 578.3 819.2 579.2 821.2 579.8 824.6 580.8 824.8M607.1 822.8 609.8 821 612.8 817.8 613.4 815.8 612.3 814.2 610.2 813.9 607.2 814.5 604.7 815.2 603.6 816.2 603.5 818.2 604.6 821.8 605.8 822.8 607.1 822.8M580.8 536.8 577.8 536.9 574.1 535.8 572.8 534.3 572.2 531.8 572.3 527.8 574 522.8 575.8 520.7 578.8 519.7 581.8 519.9 584.8 521.5 586.7 523.8 587.9 526.8 587.7 529.2 586 533.8 584.3 535.2 580.8 536.8M606.1 829.8 607 828.2 611.5 823.2 616.7 818.2 617.3 816.8 617.3 815.8 615.7 813.2 612.8 811.1 610.8 810.9 605.8 812 600.8 812.3 598.8 811.7 596.6 809.8 594.9 807.2 594.7 805.2 595.3 803.8 599.6 797.8 599.9 796.2 599.3 795.2 598.2 795.5 596.8 796.8 593.8 800.2 591.9 803.8 590.8 804.7 588.8 805 584.8 802.5 583.2 802.2 581.8 802.4 578.2 804.2 574.6 807.8 573.2 808.5 572.2 808.3 571.8 807.8 570.9 803.8 568.3 799.2 567.6 796.8 567.4 793.8 567.8 791.4 568.5 789.2 571.8 784 573 783.2 576.2 782.3 577.2 781.3 580.9 773.2 581.7 770.2 581.7 767.8 581 765.8 577.8 762 576.6 759.8 576.1 757.2 575.8 751.8 574.8 750 573.8 749.6 572.2 749.8 568.5 752.8 561.8 754.5 551.8 759.8 550.2 761.8 548.9 765.2 547.9 768.8 547.4 774.2 546.2 775.9 541 777.2 537.2 779.7 535.8 779.2 535.2 778.2 535.1 777.2 536.2 774.3 539.9 768.8 540.9 766.8 541.5 763.2 541.3 757.2 547 742.2 548.3 740.2 552 737.2 553.1 735.2 553.2 732.8 551.2 728 550.8 725.2 551.2 722.8 552.8 720.2 554.8 718.4 560 715.8 563.2 711.6 564.8 710.2 571.8 707.2 577.2 703.4 583.8 702.3 587.8 700.2 594.2 694.3 600.2 690.2 604.5 686.8 609.8 680.9 615.8 675.2 617.8 674 620.8 673.2 621.8 672 621.9 669.8 620.5 665.8 620.1 663.2 619.8 657.8 618.9 651.2 619.3 642.2 618.1 635.8 617.8 628.8 616.5 621.8 615.2 608.8 615.4 606.2 616.8 603.6 618.8 601.3 620.2 600.2 621.8 599.8 623.2 600.2 627.8 602.7 629.3 604.2 629.6 606.2 628.9 611.2 629.3 612.2 630.2 613.1 632.3 613.8 641.8 614.8 650.3 617.8 657.2 618.9 660.8 619.9 663.4 619.8 667.2 616.9 669.2 616.1 675.2 615.2 680.8 615.5 682.2 614.7 684.8 612.3 686.2 611.7 691.8 612 696.2 611.4 697.8 611.7 704.2 615.3 710.2 619.8 712.8 620.3 722.2 617.6 727.2 616.8 731.2 613.6 736.8 613.5 738.8 612.8 740.2 610.8 741.4 604.8 742.8 600.8 743.9 598.8 749.8 592.2 759.8 585.9 762.7 582.2 763.8 581.5 769.8 580.7 773.2 578.8 774.8 578.4 776.8 578.7 784.2 580.6 785.8 582.4 787.8 587.8 788.4 591.2 789 599.8 787.6 612.2 787.1 620.2 786.1 623.8 783.8 627.3 779.7 631.2 777.3 636.8 774.8 639 770.8 640.9 766.8 641.5 764.2 641.1 758.2 638.6 755.8 638.5 754.4 639.8 752.8 643.8 749.8 646.5 748.9 647.8 747.2 651.6 746 656.8 744.9 665.2 744.6 672.8 743.8 675.2 741.3 680.2 739.8 685.2 737.9 695.2 737.5 700.8 737 702.2 735.2 704.3 727.8 710.2 723.4 716.8 717.4 722.2 709.6 730.2 707.8 732.8 705.2 737.8 701.2 742.3 699.5 746.8 698.9 751.8 698.3 753.8 692.5 760.8 689.5 767.2 686.2 771.8 685.6 774.8 686.3 780.8 685.9 784.2 684.8 787.2 681.8 791.9 678.8 798.2 678.2 800.2 677.8 804.8 677.2 806.5 674 811.2 669.2 816.8 668.6 819.2 668.6 824.2 668.2 825.8 663.3 829.8M579.2 532.8 577.8 532.5 576.8 531.8 575.9 530.2 575.6 528.8 575.6 527.2 576.2 525.6 577.2 524.4 578.8 523.8 580.2 524.1 581.8 525.1 582.9 526.8 583.2 528.2 582.9 529.8 582.1 531.2 580.8 532.3 579.2 532.8M611.5 829.8 612 827.8 613.2 825.7 615.2 823.8 620.2 820.3 622.1 817.8 622.4 816.2 622.1 815.2 621.1 814.2 612.8 808.4 610.2 808.1 604.8 809.2 602.8 808.6 601.5 807.2 601 805.8 601.1 804.2 604.4 798.2 606 793.8 606.1 790.8 605.6 789.2 604.8 788.3 603.2 787.5 601.2 787.2 597.3 788.2 595.8 789.6 593.2 794 592.2 794.8 590.8 795.4 584.8 795.9 576.8 798 574.7 797.8 573.8 797.1 573.3 796.2 573.3 795.2 573.9 794.2 577.1 791.8 580.2 788.7 582.2 788 586.2 788.2 587.4 787.2 587.7 786.2 587.4 784.8 586.6 783.8 584 781.8 583.5 780.8 583.6 779.2 584.8 777.7 588.2 775.7 589.6 774.2 590.3 772.2 589.7 768.2 589.9 766.8 590.8 765.8 593.8 764.3 595.7 762.8 596.6 761.2 596.2 759.8 595.2 759.4 593.8 759.7 592.2 760.6 589.8 763 588.2 762.8 583.2 756.2 581.8 752.2 580.2 749.8 576.8 746.2 575.2 745.2 573.8 744.7 571.8 744.8 570.2 745.5 566.8 748.8 564.8 750.2 555.2 753.7 552.2 754.2 550.8 753.9 550 752.8 549.9 751.2 551.8 743.2 555.1 738.2 556.7 733.8 556.9 730.8 555 726.8 555 725.8 555.8 724.6 561.2 720.8 566.8 715.1 572.2 712.1 576.8 708.4 578.8 707.6 582.8 707.2 588.2 703.9 593.8 698.1 600.4 693.2 605.8 688.8 611.8 682.5 615.8 679.3 618.2 678.4 622.2 679 623.2 678.3 623.8 677.4 624.8 673.7 625 671.2 624.6 669.8 622.5 666.2 621.7 663.2 621.1 651.2 621.1 643.2 619.7 635.8 619.4 628.8 617.9 620.8 616.9 609.2 617.2 606.8 618.2 604.8 620.2 602.9 621.8 602.5 623.8 603.1 626.1 604.8 627 606.8 626.6 610.8 626.9 612.8 627.8 614.3 629.1 615.2 640.8 617.5 651.2 620.5 660.8 622.4 664.2 622.5 668.8 621.3 670.2 621.4 677.8 625.5 682.5 629.2 685.2 630.5 688.2 630.8 690.8 630.1 692.3 628.8 695.8 624.4 699.6 621.8 701.8 621.2 703.2 621.5 704.8 622.3 711.2 628.8 712.8 629.5 714.8 629.7 716.5 629.2 718.3 628.2 722.3 624.8 727.2 623.7 730.2 622.6 731.8 621.4 734.2 618.2 735.8 617.8 739.2 617.5 741.8 616.1 743.2 614.4 744.1 612.8 745.6 605.8 747.3 601.8 752.2 595.9 754.8 593.9 766.2 586.3 768.2 585.4 771.2 584.9 774.2 584.9 777.2 585.5 779.2 586.3 782.8 588.5 784.2 589.9 785.2 591.6 785.8 593.8 786.1 602.8 784.9 611.8 784.6 618.2 783.7 621.2 777.3 629.8 774.8 634.3 773.2 635.6 771.2 636.4 767.2 637 764.2 636.8 761.8 635.8 756.2 632.6 750.8 631.1 748.2 631.2 745.8 631.8 743.4 632.8 742.3 633.8 742 634.8 742.1 636.2 745.5 642.2 746 643.8 746 645.8 744.1 654.8 743 664.8 742.8 672.2 739.9 679.2 738.3 684.8 734.9 700.8 732.8 703.2 727.8 706.5 725.2 708.7 717.2 718.2 706.4 729.2 702.6 734.8 698 738.8 697.1 740.8 696.3 745.2 694 753.2 690.2 758.5 687.4 763.8 683.8 768.2 679 783.2 678.2 784.8 675.3 788.2 675.4 793.8 673.3 800.2 672.2 802 668.8 805.8 667.2 810.2 664.2 814.8 663.5 818.2 664.1 823.2 663.8 824.8 662.8 825.8 660.8 826.7 654.2 828 653.3 828.8 652.8 829.8M771.2 631.3 762.2 631.5 749.8 626.8 745.2 626 744.7 625.8 744.3 624.8 747.6 615.8 748.2 606.2 749 603.8 750.2 601.7 755.2 596.9 760.8 593.3 763.2 592.5 767.8 592 772.8 590.8 776.3 591.8 780.2 593.6 781.6 594.8 782.4 597.8 782.6 605.2 781.4 616.8 780.8 619.2 774.2 629.3 772.8 630.7 771.2 631.3M615.8 829.8 616.8 827.6 621.8 823.9 625 820.2 626.5 817.2 626.5 814.8 624.6 812.8 618.8 809.8 612.8 805.5 608.2 803.2 607.8 801.2 609.5 795.8 610.3 789.2 611.3 784.8 611.2 783.8 610.2 783 607.2 782.6 604.8 781.6 601.2 778.8 598.2 777.2 597.4 776.2 597.2 775.2 597.8 773.8 598.6 773.2 605.2 773 607.8 771.9 611.8 769.2 613.2 768.7 615.1 769.2 617.2 772.1 618.8 772.2 619.8 771.3 620 770.2 620.1 763.8 619.5 762.2 614.8 759 611.8 755.1 610.2 753.9 608.2 753.8 604.2 755.3 602.8 755.5 591.8 752.7 587.1 749.2 581.5 746.2 576.8 741.7 574.8 740.5 572.8 740.4 570.2 741.3 568.2 742.7 564.2 746.6 561.2 748.1 559.2 748.4 558.2 748 557.7 747.2 557.5 745.8 558.7 739.2 561.3 731.8 562.5 726.8 564.9 722.2 566.8 719.8 569.2 718.2 574.2 717 578.8 713.4 582.2 712.4 583.8 711.5 587 708.2 590.9 705.2 595.2 699.8 603.2 693.9 614.2 683.7 616.2 682.7 617.8 682.5 623.8 683.6 624.8 683.1 625.2 682.4 627.3 671.2 626.6 669.2 623.9 665.8 623.2 663.2 623 644.8 621.2 635.8 620.8 629.2 619.5 620.8 618.8 610.2 618.9 608.2 619.6 606.8 620.8 605.7 621.8 605.5 623.2 606 624.2 607.2 624.7 611.2 625.3 613.8 626.4 616.2 627.7 617.2 633.8 617.9 652.8 622.6 668.2 625 677.8 629.2 683.3 632.2 687.8 633.6 691.8 633.7 701.8 632.1 708.8 634.3 715.3 634.2 720.8 632.6 727 631.2 728.8 630.2 731.8 627.9 733.8 626.9 736.2 626.4 738.2 626.6 739.2 627.2 739.5 627.8 738.8 632.2 739.2 635.2 742.5 641.8 743.2 644.2 741.3 663.8 741 671.8 737.9 680.2 733.1 699.8 731.2 701.9 726.8 704.5 724.8 706.2 715.8 715.8 711.2 719.8 707.3 724.2 703.3 727.8 699.9 732.2 696.3 735.2 695.1 736.8 692.8 742.2 689.2 753.8 685.5 760.8 681.5 766.2 679 772.2 675.7 777.2 673.2 782.8 670 787.8 669.2 791.8 669.3 797.2 668.6 799.2 664.2 804.2 661.8 809.1 660.2 810.9 655.5 815.2 651.2 816.9 649.6 818.2 648.8 820.2 649.3 825.2 648.5 829.8M762.8 626.3 759.2 626 756.8 625.1 752.2 618.8 751.4 616.2 750.6 610.8 750.5 607.8 750.9 605.2 751.8 603.2 753.8 601.1 757.2 598.2 760.2 596.5 762.8 596 771.8 597.1 776.8 599.5 778.2 600.8 779.1 602.2 779.6 606.8 778.3 614.2 777 617.2 772.2 624.3 770.2 625.2 762.8 626.3M622.3 829.8 623.5 827.2 628.4 822.2 633.3 813.8 633.4 812.8 632.9 811.2 629.9 807.8 629.6 806.2 632.4 798.8 632.8 788.2 635.6 781.2 636.4 775.2 636.2 772.6 635.8 771.6 634.5 770.8 628.7 769.2 627.8 768.5 627.1 767.2 626.8 765.8 627.2 764.2 629.9 761.2 630.7 759.8 630.6 758.2 629.5 754.2 628.8 753 621.4 750.8 616.2 749.7 611.2 747.5 609.2 747.7 605.2 749.6 602.8 750 600 749.2 597.3 747.2 596.5 745.2 596.9 743.8 600.8 740.9 601.8 738.8 600.9 730.8 602 723.8 601.8 721.4 599.6 718.8 595.8 716.8 592.8 716.4 587.2 717 586.5 716.8 586.2 716.2 586.8 714.2 588.3 711.2 593.2 706.8 596.5 702.2 607.2 693.6 613.8 686.8 615.8 685.7 618.2 685.4 620.2 685.9 625.8 688.2 627.2 687.8 627.9 686.8 628.2 685.2 628.2 677.8 629.6 671.2 628.9 669.2 625.7 665.8 624.7 663.2 624.9 648.8 624.3 642.8 622.5 635.2 621.4 621.2 621.2 615.2 621.6 613.2 622.2 613.1 622.8 613.7 624.8 618.2 626.2 619.7 627.2 619.8 630.8 619.1 632.8 619.2 651.2 624 666.8 626.7 677.8 631.2 684.2 634.5 688.2 635.8 697.8 635.6 707.2 637.1 714.8 637.2 717.2 636.6 722.2 634.7 728.2 633.3 732.8 631.6 734.8 631.6 736 632.8 740.1 640.8 740.8 642.8 741 644.8 740.4 649.2 740.4 655.2 739.3 670.8 736.4 679.2 731.5 698.2 729.9 700.2 724.2 703.8 716.8 711.8 708.5 717.8 704.2 722.6 700.1 726.2 693.7 733.8 682 760.2 677.2 767.6 673.1 773.2 668.8 781.5 667.2 783 664.8 784.7 664 785.8 663.2 791.8 663.3 797.2 662.6 799.2 659.2 803.4 657.8 804.4 652.8 806.6 646.8 811.7 645.4 813.8 644.2 816.5 643.8 818.8 644.5 829.8M585.2 742.3 583.2 741.5 580.8 738.7 579.6 736.8 578.4 732.8 575.8 728.8 574.8 728.9 569.8 733.7 567.2 734.7 567.1 733.8 568.5 725.8 569.2 723.8 570.2 722.8 571.8 722.3 573.8 722.7 574.7 723.2 576.2 725 578.8 723.5 580.2 724.2 581.2 725.9 582.5 730.8 583.4 731.8 587.4 734.2 588.8 736.2 588.8 737.2 588.3 738.8 586.2 741.7 585.2 742.3M656.6 783.2 657.8 781.9 657.6 780.2 656.2 778.9 654.2 778.8 653.2 779.8 653.3 781.8 654.8 783.3 656.6 783.2M764.8 621.8 761.8 621.7 759.8 621.2 757.8 619.8 756 617.8 754.5 614.8 753.6 611.8 753.3 608.2 753.8 605.2 754.8 603.4 756.2 601.8 758.2 600.3 760.2 599.4 769.2 599.4 771.8 599.8 774.8 601.3 775.8 602.2 776.6 603.8 777 607.2 776.1 611.8 774.4 615.2 771.2 619.3 768.8 620.9 764.8 621.8M645.2 779.9 644.2 780.2 643.8 779.9 643.3 778.8 643.1 773.8 643.4 769.8 643.1 768.2 641.8 766.7 637.8 765 637 763.8 637.3 761.8 638.8 758.5 642 754.8 642.7 753.2 643.2 750.2 642.5 747.8 641.3 746.8 640.2 746.5 631.8 747 627.2 746.5 620.8 745 616.8 743.2 611.8 742.4 609.6 741.2 607.8 738.2 606.2 732.2 606.4 727.2 607.8 721.2 607.6 718.8 604.3 711.8 601.2 708.9 600.4 706.8 600.7 704.8 601.5 703.2 605.8 698.8 609.5 695.8 612.7 690.8 614.8 688.8 616.8 688.1 618.8 688.2 625.2 691.2 627.2 691.6 629.2 690.7 630.6 688.2 631 685.8 630.3 680.2 630.3 678.2 630.8 676.2 632.4 673.2 632.8 671.8 631.9 669.8 627.2 665.4 626.3 663.2 626.7 650.8 625.7 642.2 624.1 635.2 623.7 626.8 624.2 623.8 624.8 623.2 629.8 621 632.8 620.8 651.2 625.6 666.2 628.3 677.2 632.8 684.2 636.4 687.2 637.6 689.2 637.8 695.8 637.5 704.8 639.5 715.2 639.5 717.2 639 723.8 636.2 731.8 634.5 733.8 634.8 735.2 636.1 737.6 639.8 739 643.2 738.4 649.2 738.6 655.2 737.9 662.8 737.9 668.2 737.4 670.8 734.7 678.2 730.6 694.2 729.4 697.2 728.2 698.5 723.8 701.6 716.1 709.8 713.2 711.8 704 717.2 696.8 724.5 691.4 731.8 688.4 740.2 682.3 751.8 679.2 759.2 677.2 762.8 674.8 765.7 671.2 768.3 663.2 771.3 661.2 771 656.2 768.8 652.2 768.7 650.2 769.2 649.4 770.2 649.3 772.8 648.7 774.8 646.8 778.2 645.2 779.9M766.8 618.3 763.8 618.5 761 617.8 759 616.2 757.5 613.8 756.7 610.2 756.9 606.8 757.9 604.2 759.8 602.8 761.8 602.4 770.2 602.5 772.2 603.2 773.4 604.8 773.9 608.2 772.8 612.4 770.2 616.3 768.8 617.5 766.8 618.3M672.8 761.8 671.2 762.1 670.2 761.8 664.2 758 661.2 757.1 659.8 757.2 658.2 757.8 654.8 761.1 653.8 761.2 652.8 760.6 651.2 758.5 650.4 756.2 648.7 748.2 648.4 744.2 649.6 740.8 649.6 739.8 649 738.8 644.8 734.7 642.2 734.2 639.8 735 637.8 736.8 634.8 740.9 633.2 742 631.8 742.4 629.2 741.8 624.2 739 622.8 737.5 621.9 735.8 620 727.2 619.7 722.8 618.4 719.2 618.4 718.2 619.9 710.8 621 709.2 624.4 706.8 625 705.8 625.1 704.2 624.2 701.8 622.8 699.8 620.3 697.2 616.8 694.9 616.1 693.2 616.8 692.2 618.8 691.8 626.8 695.5 628.2 695.3 630.2 694.1 632.1 691.8 633 689.2 633.4 685.8 633.2 680.2 633.5 678.8 634.2 677.4 636.2 675.2 637.1 673.2 636.9 671.8 636.3 670.8 629.2 665.2 628.2 663.8 627.9 662.2 628.5 654.8 628.4 650.8 627.3 641.2 625.9 635.2 625.7 629.2 626.1 627.2 627 625.8 628.8 623.7 630.8 622.5 633.2 622.4 651.2 627.3 665.8 629.9 676.8 634.5 685.2 638.9 687.8 639.8 694.2 639.3 703.8 641.9 713.8 641.8 717.8 641.1 724.2 638 731.8 636.7 733.2 637.2 734.2 638.1 736.7 642.2 737 644.2 736.5 649.8 736.7 656.2 736.1 668.2 735.6 670.2 733 676.8 729.2 691.6 728 694.8 726.9 696.2 723.2 699.3 718.2 705.1 714.8 708.3 711.8 710.3 701.8 715.4 697.9 718.2 694.8 721.4 688.3 730.8 687.6 732.8 686 739.2 680.5 749.2 677.2 756.9 675.2 759.8 672.8 761.8M766.8 614.3 765.2 614.6 763.8 614.3 762.2 613.6 761.2 612.6 760.6 611.2 760.5 609.8 760.8 608.2 761.7 607.2 763.2 606.9 765.2 607.2 767.2 608.1 768.2 609.1 768.8 610.8 768.6 612.2 767.8 613.6 766.8 614.3M674.2 752.3 673.2 752.4 672.2 752 669.2 749.7 667.8 749 666.2 749.1 661.2 750.7 659.8 750.5 658.8 749.9 658.1 748.8 657.7 746.8 656.9 736.2 655.9 734.2 653.3 730.8 652.5 728.8 652.3 726.2 652.7 724.2 653.6 722.8 655.2 721.5 658.2 720.9 663.8 722 665.2 722 665.6 721.8 664.7 716.8 663.7 715.8 659.2 713.2 655.2 708 648.8 702.8 645.8 701.7 640.2 701.5 638.3 700.2 637.3 698.8 636.1 690.2 636.2 686.5 637.3 682.2 640.4 675.8 640.9 672.8 640.5 671.2 639.2 669.5 631.7 664.2 630.8 663.2 630.2 661.8 630.6 655.8 630.5 651.2 629.8 639.8 628.8 633.8 629.4 627.2 630.2 625.6 631.8 624.5 634.8 624.6 646.2 627.6 650.8 629.1 655.9 629.8 666.2 631.9 675.1 635.8 685.8 641.4 688.2 642.2 693.8 641.7 703.8 644 712.2 644.1 718.4 643.2 725.4 640.2 730.8 639.1 732.8 639.9 733.8 641.1 734.5 642.8 734.8 644.8 734.4 650.8 734.5 657.2 733.8 667.8 730.8 675.2 726.7 690.8 724.8 694.5 717.2 702.9 714.2 705.5 708.8 708.8 701.2 711.4 690.8 718.1 688.2 718.4 680.2 717.2 677.2 717.3 674.2 718.4 669.8 721.4 666.2 722.4 666.3 723.8 668 727.8 668.2 729.2 667.6 730.8 665.5 733.2 665.3 734.2 665.8 735.9 666.8 737.3 667.8 738 671.2 738.8 673.2 739.9 676.5 743.2 677.3 744.8 677.2 746.3 676.2 749.5 675.2 751.4 674.2 752.3M637.2 719.3 635.2 719 634.9 718.2 635.1 713.2 635.5 712.2 636.2 711.7 637.8 712 642.3 714.2 643.3 715.2 642.9 716.8 641.5 718.2 639.8 718.9 637.2 719.3M690.2 705.3 687.8 705.6 685.8 705.4 683.8 704.3 681.5 702.2 679.8 700.2 679.1 698.8 679 694.2 678.5 692.2 677.4 690.8 675.8 689.8 669.2 687.8 667.2 687.8 665.2 688.8 664.2 690.2 663.9 692.2 665.4 699.8 664.7 701.2 663.2 701.9 661.2 701 656.9 697.2 654.9 693.8 653.9 692.8 652.2 691.9 648.2 690.6 646.5 689.2 644.5 684.8 644.6 681.8 645.3 679.8 646.8 677.6 650.8 674.9 651.8 673.7 652.2 671.7 652.9 664.8 654.2 659.8 654.2 657.8 652.2 654 650.2 652.4 648.2 652.4 644.2 653.7 642.2 653.9 640.1 653.2 638.1 651.8 637.5 650.2 636.5 644.2 636.5 637.8 634.8 633.2 635.1 631.2 635.8 630.1 636.8 629.7 639.8 630 644.2 629.8 646 630.2 649.8 632.2 655.2 632 665.8 634.2 672 636.8 686.2 644.2 688.8 645 694.2 644.7 705.2 646.2 710.8 646.4 720.8 645.2 729.2 642.3 730.8 642.5 731.5 643.2 732.1 646.2 732 657.2 731.3 665.8 730.8 667.8 727.6 675.2 725.2 684.7 722.8 689.8 721.2 691.3 718.2 692.5 713.8 696.2 712.2 697.2 710.2 697.4 705.2 696.1 701.8 696.9 698.3 699.2 693.8 704 690.2 705.3M705.8 686.4 704.2 686 703.4 684.2 703.7 682.8 705.6 680.2 706 678.8 705.6 675.8 704.1 671.8 703 670.2 701.7 669.2 695.2 667.2 692.9 665.8 691.4 664.2 688.9 659.8 685.2 655.8 683 648.8 682.9 647.8 683.2 647.5 688.2 648.7 695.8 647.7 709.8 649 717.2 648 724.2 647.7 726.2 648 727.2 648.8 728 651.2 728.1 655.8 726.1 664.2 722.8 668.2 719.9 672.2 716.8 678.7 715.2 680.9 713.4 682.2 709.8 683.5 706.8 685.9 705.8 686.4" fill="none" stroke="#000" stroke-opacity="0.6" stroke-width="0.55" stroke-linejoin="round"/>
<g stroke="#ffffff" stroke-opacity="0.42" stroke-width="0.9" fill="none">
<path d="M62 207.8 L992.5 188.7"/>
<path d="M62 295.8 L992.5 276.7"/>
<path d="M62 383.7 L992.5 364.6"/>
<path d="M62 471.7 L992.5 452.6"/>
<path d="M62 559.7 L992.5 540.6"/>
<path d="M62 647.7 L992.5 628.6"/>
<path d="M62 735.6 L992.5 716.5"/>
<path d="M62 823.6 L992.5 804.5"/>
<path d="M61.3 145.5 L74.5 824.5"/>
<path d="M244.9 145.5 L258.1 824.5"/>
<path d="M428.4 145.5 L441.6 824.5"/>
<path d="M612.0 145.5 L625.2 824.5"/>
<path d="M795.5 145.5 L808.7 824.5"/>
<path d="M979.0 145.5 L992.2 824.5"/>
</g>
<g fill="none" stroke="#000" stroke-opacity="0.85" stroke-width="0.6"><ellipse cx="713" cy="435.8" rx="2" ry="1.5" transform="rotate(20 713 435.8)"/><ellipse cx="733.8" cy="448" rx="2.6" ry="1" transform="rotate(-55 733.8 448)"/><ellipse cx="777.8" cy="444" rx="2" ry="2.5" transform="rotate(-20 777.8 444)"/><ellipse cx="787.7" cy="451" rx="1.6" ry="1.6" transform="rotate(0 787.7 451)"/><ellipse cx="773.4" cy="456" rx="1.5" ry="2.5" transform="rotate(10 773.4 456)"/><ellipse cx="779.3" cy="457" rx="2" ry="2.5" transform="rotate(-20 779.3 457)"/><ellipse cx="804" cy="465.5" rx="1.5" ry="3" transform="rotate(25 804 465.5)"/><ellipse cx="810.5" cy="463.5" rx="1.6" ry="2.6" transform="rotate(30 810.5 463.5)"/><ellipse cx="771.6" cy="465" rx="1" ry="2" transform="rotate(0 771.6 465)"/><ellipse cx="752.5" cy="464" rx="1.1" ry="1.1" transform="rotate(0 752.5 464)"/><ellipse cx="777.8" cy="482" rx="1.7" ry="1.5" transform="rotate(30 777.8 482)"/><ellipse cx="770" cy="479" rx="1" ry="1" transform="rotate(0 770 479)"/><ellipse cx="746.6" cy="481.5" rx="1" ry="1" transform="rotate(0 746.6 481.5)"/><ellipse cx="735.4" cy="472.7" rx="0.7" ry="0.7" transform="rotate(0 735.4 472.7)"/><ellipse cx="735.4" cy="483" rx="0.8" ry="0.6" transform="rotate(0 735.4 483)"/><ellipse cx="849" cy="451.4" rx="1.5" ry="2" transform="rotate(-20 849 451.4)"/><ellipse cx="851.9" cy="459.6" rx="0.7" ry="0.7" transform="rotate(0 851.9 459.6)"/><ellipse cx="845.7" cy="464.6" rx="0.7" ry="0.7" transform="rotate(0 845.7 464.6)"/><ellipse cx="871.4" cy="471" rx="1.4" ry="1.4" transform="rotate(0 871.4 471)"/><ellipse cx="719.8" cy="443.5" rx="0.6" ry="0.6" transform="rotate(0 719.8 443.5)"/><ellipse cx="796.5" cy="444" rx="1" ry="1.3" transform="rotate(0 796.5 444)"/><ellipse cx="705.5" cy="392" rx="4.2" ry="2.4" transform="rotate(-10 705.5 392)"/><ellipse cx="715.2" cy="389" rx="2.2" ry="3.8" transform="rotate(-15 715.2 389)"/><ellipse cx="708" cy="384" rx="1.6" ry="2.6" transform="rotate(20 708 384)"/><ellipse cx="696.5" cy="403.3" rx="2.8" ry="1.7" transform="rotate(-15 696.5 403.3)"/><ellipse cx="700" cy="389" rx="1.3" ry="1.6" transform="rotate(0 700 389)"/><ellipse cx="772" cy="388.5" rx="1.6" ry="1.1" transform="rotate(30 772 388.5)"/><ellipse cx="777.4" cy="391" rx="2" ry="2.5" transform="rotate(-30 777.4 391)"/><ellipse cx="978.4" cy="182" rx="0.8" ry="0.8" transform="rotate(0 978.4 182)"/><ellipse cx="956" cy="191.3" rx="0.9" ry="0.7" transform="rotate(0 956 191.3)"/><ellipse cx="955.3" cy="230.9" rx="1.1" ry="1.3" transform="rotate(0 955.3 230.9)"/><ellipse cx="958.5" cy="241.6" rx="1.1" ry="1.3" transform="rotate(0 958.5 241.6)"/><ellipse cx="956.7" cy="245" rx="1" ry="1" transform="rotate(0 956.7 245)"/><ellipse cx="949" cy="258.4" rx="1.5" ry="1.5" transform="rotate(0 949 258.4)"/><ellipse cx="944.7" cy="263.8" rx="2.2" ry="3.2" transform="rotate(30 944.7 263.8)"/><ellipse cx="943.5" cy="274" rx="1.8" ry="3" transform="rotate(10 943.5 274)"/><ellipse cx="611" cy="371.6" rx="3" ry="1.6" transform="rotate(0 611 371.6)"/><ellipse cx="641" cy="367" rx="2" ry="1.5" transform="rotate(0 641 367)"/><ellipse cx="646.3" cy="365.6" rx="2" ry="2" transform="rotate(0 646.3 365.6)"/><ellipse cx="653" cy="363" rx="0.7" ry="0.7" transform="rotate(0 653 363)"/><ellipse cx="624.3" cy="388.4" rx="1.3" ry="2.6" transform="rotate(-30 624.3 388.4)"/><ellipse cx="629.5" cy="387.6" rx="2" ry="1.4" transform="rotate(30 629.5 387.6)"/><ellipse cx="638.5" cy="393.5" rx="1" ry="0.6" transform="rotate(0 638.5 393.5)"/><ellipse cx="639.3" cy="398.5" rx="1.3" ry="1.3" transform="rotate(0 639.3 398.5)"/><ellipse cx="655.5" cy="380" rx="0.6" ry="0.6" transform="rotate(0 655.5 380)"/><ellipse cx="562.4" cy="437.5" rx="0.8" ry="0.8" transform="rotate(0 562.4 437.5)"/><ellipse cx="562.4" cy="443.5" rx="0.8" ry="0.8" transform="rotate(0 562.4 443.5)"/><ellipse cx="684" cy="413.5" rx="0.6" ry="1" transform="rotate(0 684 413.5)"/><ellipse cx="900.3" cy="533" rx="1" ry="2" transform="rotate(0 900.3 533)"/><ellipse cx="931" cy="561" rx="1.5" ry="1" transform="rotate(0 931 561)"/><ellipse cx="979" cy="598.6" rx="1" ry="1" transform="rotate(0 979 598.6)"/><ellipse cx="699.5" cy="452.5" rx="0.6" ry="0.6" transform="rotate(0 699.5 452.5)"/><ellipse cx="727" cy="452" rx="0.6" ry="0.6" transform="rotate(0 727 452)"/><ellipse cx="439.3" cy="755.7" rx="0.6" ry="0.6" transform="rotate(0 439.3 755.7)"/><ellipse cx="420.7" cy="775" rx="0.6" ry="0.6" transform="rotate(0 420.7 775)"/></g>
<path d="M412.7 825.0 L418.5 806.6 L418.1 783.6 L432.7 767.3 L458.9 748.7 L491.6 724.7 L509.1 706.2 L517.8 694.2 L515.6 676.7 L521.1 669.1 L523.3 663.6 L521.1 660.4 L523.3 656.0 L518.9 652.7 L519.6 644.0 L521.2 635.4 L531.6 633.3 L536.8 629.2 L531.6 623.0 L527.4 614.6 L527.4 608.4 L534.7 604.2 L538.3 593.8 L536.8 581.4 L531.6 575.1 L521.2 571.0 L515.4 565.8 L515.4 558.5 L521.2 553.3 L528.5 551.2 L534.7 541.9 L535.3 523.2 L531.6 514.8 L525.4 504.4 L525.0 498.2 L533.7 494.1 L538.3 488.9 L534.7 483.7 L531.6 481.6 L535.3 478.5 L532.6 473.3 L539.9 464.9 L552.4 456.6 L562.8 451.4 L566.0 444.0 L566.5 439.9 L572.0 427.9 L578.0 417.9 L586.0 410.9 L596.0 403.9 L603.0 399.9 L609.0 398.9 L608.0 393.9 L610.0 380.0 L612.3 374.0 L620.0 373.6 L629.0 371.0 L644.0 368.0 L660.0 365.0 L669.0 367.0 L674.0 377.0 L680.0 378.5 L687.5 380.7 L693.5 374.0 L719.0 368.7" fill="none" stroke="#000" stroke-width="2.4" stroke-linejoin="round"/><path d="M719.0 368.7 L718.2 374.7 L716.0 377.7 L710.7 376.2 L692.7 392.0 L705.5 406.2 L722.7 390.5 L718.2 384.5 L731.0 386.0 L740.0 394.2 L737.7 396.5 L740.0 401.7 L737.7 402.5 L730.2 396.5 L711.5 413.7 L765.4 457.9 L772.9 449.7 L778.9 449.7 L787.9 438.4 L768.4 421.9 L763.9 422.7 L749.7 409.2 L752.7 404.7 L793.9 439.9 L790.1 445.9 L802.1 454.9 L818.6 436.9 L780.7 398.7 L786.4 394.2 L811.9 418.2 L819.4 422.7 L830.0 422.7 L856.4 421.5 L865.8 417.8 L897.1 382.4 L931.5 299.5 L934.7 258.8 L938.4 195.7 L937.7 189.8 L929.2 144.0" fill="none" stroke="#000" stroke-width="2.1" stroke-linejoin="miter"/><path d="M719 368.7 L743 359.7" stroke="#000" stroke-width="3.4" stroke-linecap="round" fill="none"/>
<circle cx="581.5" cy="418.2" r="3.3" fill="#000" stroke="#fff" stroke-width="0.9"/><circle cx="626.3" cy="450.4" r="3.3" fill="#000" stroke="#fff" stroke-width="0.9"/><circle cx="577.4" cy="541.2" r="3.3" fill="#000" stroke="#fff" stroke-width="0.9"/><circle cx="524.3" cy="563.1" r="3.3" fill="#000" stroke="#fff" stroke-width="0.9"/><circle cx="806.4" cy="591.1" r="3.3" fill="#000" stroke="#fff" stroke-width="0.9"/><circle cx="643.4" cy="636.1" r="3.3" fill="#000" stroke="#fff" stroke-width="0.9"/><circle cx="665.4" cy="644.2" r="3.3" fill="#000" stroke="#fff" stroke-width="0.9"/><circle cx="681.3" cy="774.4" r="3.3" fill="#000" stroke="#fff" stroke-width="0.9"/><text x="588.0" y="418.7" font-size="10.6" font-weight="bold" fill="#fff" stroke="#000" stroke-width="1.6" stroke-linejoin="round" paint-order="stroke" textLength="75" lengthAdjust="spacingAndGlyphs">SHL: 69.6 %</text><text x="632.8" y="450.9" font-size="10.6" font-weight="bold" fill="#fff" stroke="#000" stroke-width="1.6" stroke-linejoin="round" paint-order="stroke" textLength="75" lengthAdjust="spacingAndGlyphs">SHT: 39.4 %</text><text x="583.9" y="541.7" font-size="10.6" font-weight="bold" fill="#fff" stroke="#000" stroke-width="1.6" stroke-linejoin="round" paint-order="stroke" textLength="73.5" lengthAdjust="spacingAndGlyphs">LHT: 56.8 %</text><text x="530.8" y="563.6" font-size="10.6" font-weight="bold" fill="#fff" stroke="#000" stroke-width="1.6" stroke-linejoin="round" paint-order="stroke" textLength="74" lengthAdjust="spacingAndGlyphs">LHL: 62.1 %</text><text x="813.4" y="591.6" font-size="10.6" font-weight="bold" fill="#fff" stroke="#000" stroke-width="1.6" stroke-linejoin="round" paint-order="stroke" textLength="75" lengthAdjust="spacingAndGlyphs">BTO: 73.4 %</text><text x="650.4" y="636.6" font-size="10.6" font-weight="bold" fill="#fff" stroke="#000" stroke-width="1.6" stroke-linejoin="round" paint-order="stroke" textLength="76" lengthAdjust="spacingAndGlyphs">GUT: 63.2 %</text><text x="672.4" y="665.2" font-size="10.6" font-weight="bold" fill="#fff" stroke="#000" stroke-width="1.6" stroke-linejoin="round" paint-order="stroke" textLength="76" lengthAdjust="spacingAndGlyphs">TMT: 69.8 %</text><text x="688.3" y="774.9" font-size="10.6" font-weight="bold" fill="#fff" stroke="#000" stroke-width="1.6" stroke-linejoin="round" paint-order="stroke" textLength="84" lengthAdjust="spacingAndGlyphs">OHT: 100.0 %</text>
</g>
<rect x="62.5" y="145.5" width="930.0" height="679.0" fill="none" stroke="#000" stroke-width="1.1"/>
<text x="511.3" y="21" font-size="14" text-anchor="middle" textLength="106.2" lengthAdjust="spacingAndGlyphs">BL Cloud Cover</text>
<text x="511.3" y="37" font-size="14" text-anchor="middle" textLength="423.9" lengthAdjust="spacingAndGlyphs">Valid 1700 LST (1500Z) WED 18 Feb 2026 [39hrFcst@0629z]</text>
<text x="511.5" y="53" font-size="14" text-anchor="middle" textLength="544" lengthAdjust="spacingAndGlyphs">FDV replot - DrJack BLIPMAP from RASP 1.3km GFSA-Initiated WRF-ARW model</text>
<text x="54.7" y="211.4" font-size="11" text-anchor="end" textLength="42.6" lengthAdjust="spacingAndGlyphs">33.86°S</text>
<text x="54.7" y="299.4" font-size="11" text-anchor="end" textLength="42.6" lengthAdjust="spacingAndGlyphs">33.88°S</text>
<text x="54.7" y="387.3" font-size="11" text-anchor="end" textLength="35.5" lengthAdjust="spacingAndGlyphs">33.9°S</text>
<text x="54.7" y="475.3" font-size="11" text-anchor="end" textLength="42.6" lengthAdjust="spacingAndGlyphs">33.92°S</text>
<text x="54.7" y="563.3" font-size="11" text-anchor="end" textLength="42.6" lengthAdjust="spacingAndGlyphs">33.94°S</text>
<text x="54.7" y="651.2" font-size="11" text-anchor="end" textLength="42.6" lengthAdjust="spacingAndGlyphs">33.96°S</text>
<text x="54.7" y="739.2" font-size="11" text-anchor="end" textLength="42.6" lengthAdjust="spacingAndGlyphs">33.98°S</text>
<text transform="translate(79.5,833.9) rotate(-90)" font-size="11" text-anchor="end" textLength="41.7" lengthAdjust="spacingAndGlyphs">18.25°E</text>
<text transform="translate(262.8,833.9) rotate(-90)" font-size="11" text-anchor="end" textLength="34.8" lengthAdjust="spacingAndGlyphs">18.3°E</text>
<text transform="translate(446.1,833.9) rotate(-90)" font-size="11" text-anchor="end" textLength="41.7" lengthAdjust="spacingAndGlyphs">18.35°E</text>
<text transform="translate(629.4,833.9) rotate(-90)" font-size="11" text-anchor="end" textLength="34.8" lengthAdjust="spacingAndGlyphs">18.4°E</text>
<text transform="translate(812.7,833.9) rotate(-90)" font-size="11" text-anchor="end" textLength="41.7" lengthAdjust="spacingAndGlyphs">18.45°E</text>
<g shape-rendering="crispEdges">
<rect x="155.20" y="879.3" width="30.05" height="29.9" fill="#0000ee"/>
<rect x="184.95" y="879.3" width="30.05" height="29.9" fill="#0032e6"/>
<rect x="214.70" y="879.3" width="30.05" height="29.9" fill="#006eeb"/>
<rect x="244.46" y="879.3" width="30.05" height="29.9" fill="#00a0eb"/>
<rect x="274.21" y="879.3" width="30.05" height="29.9" fill="#00cde6"/>
<rect x="303.96" y="879.3" width="30.05" height="29.9" fill="#00dccd"/>
<rect x="333.71" y="879.3" width="30.05" height="29.9" fill="#00d2a0"/>
<rect x="363.46" y="879.3" width="30.05" height="29.9" fill="#00be6e"/>
<rect x="393.22" y="879.3" width="30.05" height="29.9" fill="#00af3c"/>
<rect x="422.97" y="879.3" width="30.05" height="29.9" fill="#0faa14"/>
<rect x="452.72" y="879.3" width="30.05" height="29.9" fill="#37b405"/>
<rect x="482.47" y="879.3" width="30.05" height="29.9" fill="#6ec300"/>
<rect x="512.22" y="879.3" width="30.05" height="29.9" fill="#a0d200"/>
<rect x="541.98" y="879.3" width="30.05" height="29.9" fill="#c8de00"/>
<rect x="571.73" y="879.3" width="30.05" height="29.9" fill="#e4e000"/>
<rect x="601.48" y="879.3" width="30.05" height="29.9" fill="#ead200"/>
<rect x="631.23" y="879.3" width="30.05" height="29.9" fill="#ebbe00"/>
<rect x="660.98" y="879.3" width="30.05" height="29.9" fill="#ebac00"/>
<rect x="690.74" y="879.3" width="30.05" height="29.9" fill="#eb9600"/>
<rect x="720.49" y="879.3" width="30.05" height="29.9" fill="#eb7800"/>
<rect x="750.24" y="879.3" width="30.05" height="29.9" fill="#eb5500"/>
<rect x="779.99" y="879.3" width="30.05" height="29.9" fill="#e83200"/>
<rect x="809.74" y="879.3" width="30.05" height="29.9" fill="#e61900"/>
<rect x="839.50" y="879.3" width="30.05" height="29.9" fill="#dc0500"/>
<rect x="869.25" y="879.3" width="30.05" height="29.9" fill="#be001e"/>
</g>
<rect x="155.2" y="879.3" width="743.8" height="29.9" fill="none" stroke="#000" stroke-width="1.1"/>
<path d="M155.20 909.2 v4.5 M184.95 909.2 v2.8 M214.70 909.2 v4.5 M244.46 909.2 v2.8 M274.21 909.2 v4.5 M303.96 909.2 v2.8 M333.71 909.2 v4.5 M363.46 909.2 v2.8 M393.22 909.2 v4.5 M422.97 909.2 v2.8 M452.72 909.2 v4.5 M482.47 909.2 v2.8 M512.22 909.2 v4.5 M541.98 909.2 v2.8 M571.73 909.2 v4.5 M601.48 909.2 v2.8 M631.23 909.2 v4.5 M660.98 909.2 v2.8 M690.74 909.2 v4.5 M720.49 909.2 v2.8 M750.24 909.2 v4.5 M779.99 909.2 v2.8 M809.74 909.2 v4.5 M839.50 909.2 v2.8 M869.25 909.2 v4.5 M899.00 909.2 v2.8" stroke="#000" stroke-width="1.1" fill="none"/>
<text x="155.2" y="930" font-size="14" text-anchor="middle" textLength="7.4" lengthAdjust="spacingAndGlyphs">0</text>
<text x="214.7" y="930" font-size="14" text-anchor="middle" textLength="7.4" lengthAdjust="spacingAndGlyphs">8</text>
<text x="274.2" y="930" font-size="14" text-anchor="middle" textLength="16.2" lengthAdjust="spacingAndGlyphs">16</text>
<text x="333.7" y="930" font-size="14" text-anchor="middle" textLength="16.2" lengthAdjust="spacingAndGlyphs">24</text>
<text x="393.2" y="930" font-size="14" text-anchor="middle" textLength="16.2" lengthAdjust="spacingAndGlyphs">32</text>
<text x="452.7" y="930" font-size="14" text-anchor="middle" textLength="16.2" lengthAdjust="spacingAndGlyphs">40</text>
<text x="512.2" y="930" font-size="14" text-anchor="middle" textLength="16.2" lengthAdjust="spacingAndGlyphs">48</text>
<text x="571.7" y="930" font-size="14" text-anchor="middle" textLength="16.2" lengthAdjust="spacingAndGlyphs">56</text>
<text x="631.2" y="930" font-size="14" text-anchor="middle" textLength="16.2" lengthAdjust="spacingAndGlyphs">64</text>
<text x="690.7" y="930" font-size="14" text-anchor="middle" textLength="16.2" lengthAdjust="spacingAndGlyphs">72</text>
<text x="750.2" y="930" font-size="14" text-anchor="middle" textLength="16.2" lengthAdjust="spacingAndGlyphs">80</text>
<text x="809.7" y="930" font-size="14" text-anchor="middle" textLength="16.2" lengthAdjust="spacingAndGlyphs">88</text>
<text x="869.2" y="930" font-size="14" text-anchor="middle" textLength="16.2" lengthAdjust="spacingAndGlyphs">96</text>
<text x="526.4" y="948.3" font-size="14" text-anchor="middle" textLength="100.5" lengthAdjust="spacingAndGlyphs">blcloudpct [%]</text>
</svg></body></html>
